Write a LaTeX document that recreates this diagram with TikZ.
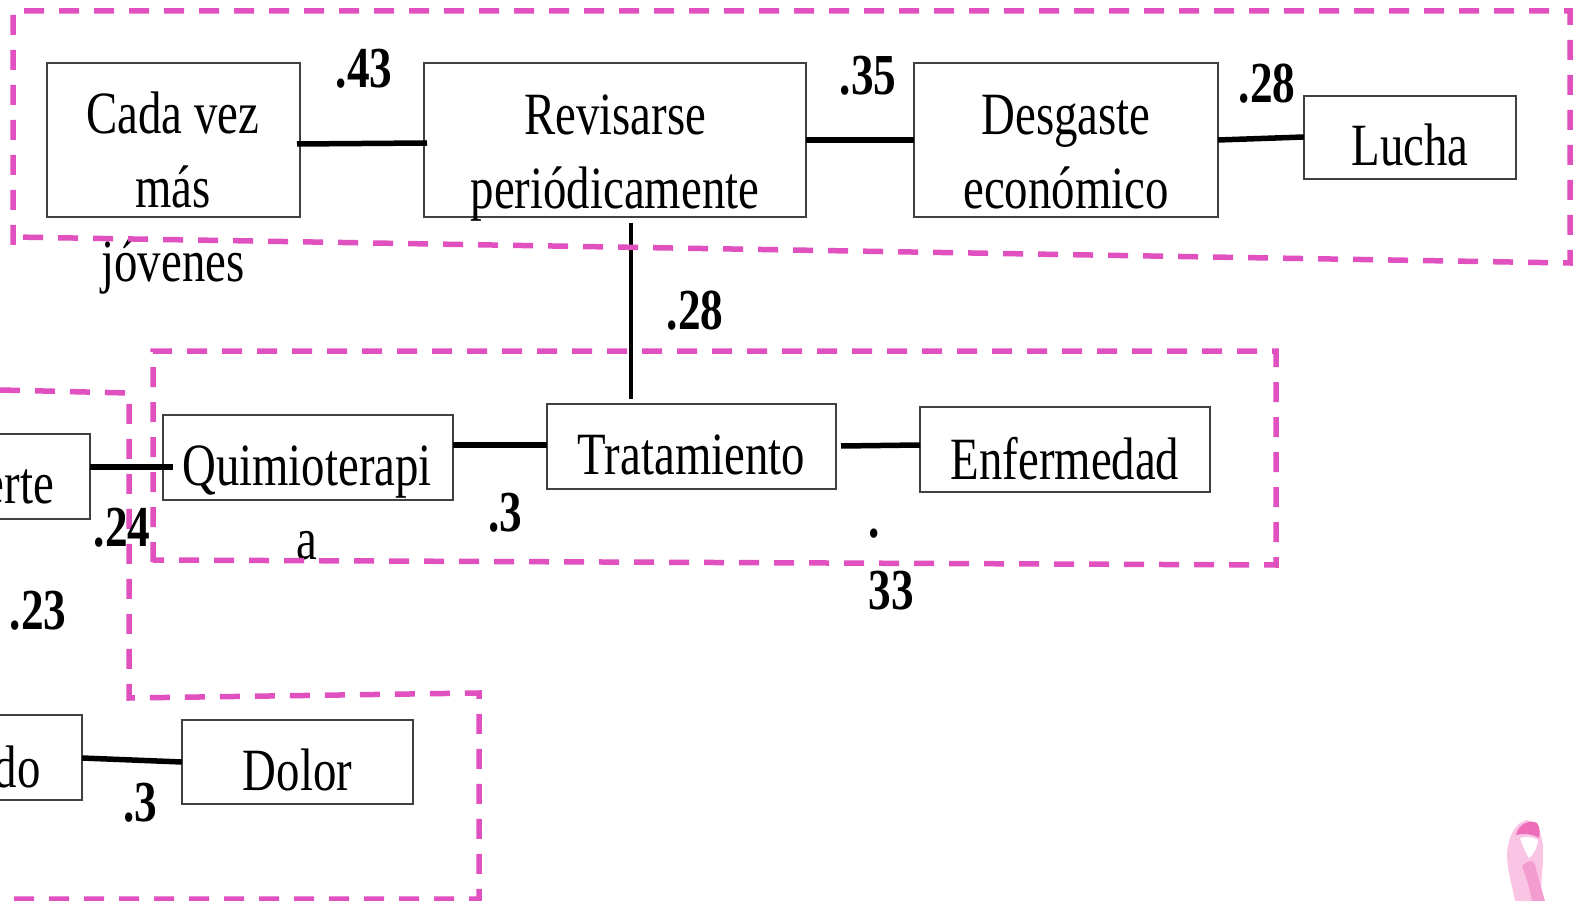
\documentclass[tikz,border=0pt]{standalone}
\usepackage{fontspec}
\setmainfont[FakeStretch=0.78]{Liberation Serif}
\definecolor{dashpink}{HTML}{E050BE}
\definecolor{boxgray}{HTML}{404040}
\definecolor{ribbonlight}{HTML}{FAC4E4}
\definecolor{ribbonmid}{HTML}{F39CCF}
\definecolor{ribbondark}{HTML}{EE6DB8}
\newcommand\boxtext[2]{\raisebox{#1pt}[0pt][0pt]{\begin{tabular}{@{}c@{}}#2\end{tabular}}}
\tikzset{
  x=1pt,y=-1pt,
  boxn/.style={draw=boxgray,line width=1.5pt,fill=white,inner sep=0pt,outer sep=0pt,font=\fontsize{60}{74}\selectfont},
  conn/.style={line width=5.5pt,black},
  connthin/.style={line width=4pt,black},
  dashbox/.style={draw=dashpink,line width=5.5pt,dash pattern=on 20pt off 15pt,line join=miter},
  num/.style={font=\fontsize{58}{60}\selectfont\bfseries,inner sep=0pt},
  txt/.style={font=\fontsize{60}{74}\selectfont,inner sep=0pt}
}
\begin{document}
\begin{tikzpicture}
\useasboundingbox (0,0) rectangle (1577,901);
\clip (0,0) rectangle (1577,901);
\fill[white] (0,0) rectangle (1577,901);
% ribbon
\fill[ribbonlight] (1527,820) .. controls (1515,822) and (1508,838) .. (1507,853) .. controls (1507,870) and (1512,885) .. (1515,901) -- (1543,901) .. controls (1539,885) and (1544,868) .. (1543,850) .. controls (1543,835) and (1538,822) .. (1527,820) -- cycle;
\fill[ribbondark] (1516,835) .. controls (1518,824) and (1530,819) .. (1537,823) .. controls (1540,827) and (1540,833) .. (1539,838) .. controls (1533,834) and (1523,833) .. (1516,835) -- cycle;
\fill[white] (1520,838) .. controls (1526,836) and (1533,837) .. (1538,840) .. controls (1537,848) and (1534,854) .. (1529,858) .. controls (1525,851) and (1522,845) .. (1520,838) -- cycle;
\fill[ribbonmid] (1522,866) .. controls (1526,862) and (1530,860) .. (1534,862) .. controls (1538,875) and (1541,888) .. (1545,901) -- (1532,901) .. controls (1530,889) and (1526,877) .. (1522,866) -- cycle;
% boxes
\node[boxn,minimum width=253pt,minimum height=154pt] (cada) at (173.5,140) {};
\node[boxn,minimum width=382pt,minimum height=154pt] (rev) at (615,140) {\boxtext{-23}{Revisarse\\periódicamente}};
\node[boxn,minimum width=304pt,minimum height=154pt] (des) at (1066,140) {\boxtext{-23}{Desgaste\\económico}};
\node[boxn,minimum width=212pt,minimum height=83pt] (luc) at (1410,137.5) {\boxtext{-19}{Lucha}};
\node[boxn,minimum width=290pt,minimum height=85pt] (qui) at (308,457.5) {};
\node[boxn,minimum width=289pt,minimum height=85pt] (tra) at (691.5,446.5) {\boxtext{-19}{Tratamiento}};
\node[boxn,minimum width=290pt,minimum height=85pt] (enf) at (1065,449.5) {\boxtext{-21}{Enfermedad}};
\node[boxn,minimum width=190pt,minimum height=85pt] (mue) at (-5,476.5) {};
\node[boxn,minimum width=190pt,minimum height=85pt] (sin) at (-13,757.5) {};
\node[boxn,minimum width=231pt,minimum height=84pt] (dol) at (297.5,762) {\boxtext{-20}{Dolor}};
% texts overflowing their boxes
\node[txt,align=center] (cadat) at (173,193.5) {Cada vez\\más\\jóvenes};
\node[txt,align=center] (quit) at (307,503) {Quimioterapi\\a};
\node[txt,anchor=east] (muet) at (54,487) {erte};
\node[txt,anchor=east] (sint) at (41,767) {do};
% connectors
\draw[conn] ([xshift=-3pt,yshift=-4pt]cada.east) -- ([xshift=3pt,yshift=-3pt]rev.west);
\draw[conn] (rev.east) -- (des.west);
\draw[conn] (des.east) -- ([yshift=0.5pt]luc.west);
\draw[connthin] ([xshift=16pt,yshift=-6pt]rev.south) -- ([xshift=-60.5pt,yshift=5pt]tra.north);
\draw[conn] ([yshift=12.5pt]qui.east) -- ([yshift=1.5pt]tra.west);
\draw[conn] ([xshift=5pt,yshift=0.5pt]tra.east) -- ([yshift=4.5pt]enf.west);
\draw[conn] ([yshift=9.5pt]mue.east) -- ([xshift=10pt,yshift=-9.5pt]qui.west);
\draw[conn] ([yshift=-0.5pt]sin.east) -- (dol.west);
% dashed frames
\draw[dashbox] (13,245) -- (13,11) -- (1570,11) -- (1570,263) -- (13,237);
\draw[dashbox] (153,562) -- (153,351) -- (1276,351) -- (1276,565) -- (153,560);
\draw[dashbox] (0,390) -- (129,393) -- (129,698) -- (479,693) -- (479,899) -- (0,899);
% numbers
\node[num] (n1) at (364,69) {.43};
\node[num] (n2) at (868,76) {.35};
\node[num] (n3) at (1267,84) {.28};
\node[num] (n4) at (695,311) {.28};
\node[num] (n5) at (505,513) {.3};
\node[num] (n6) at (874,534) {.};
\node[num] (n7) at (891,591) {33};
\node[num] (n8) at (122,528) {.24};
\node[num] (n9) at (38,611) {.23};
\node[num] (n10) at (140,803) {.3};
\end{tikzpicture}
\end{document}
